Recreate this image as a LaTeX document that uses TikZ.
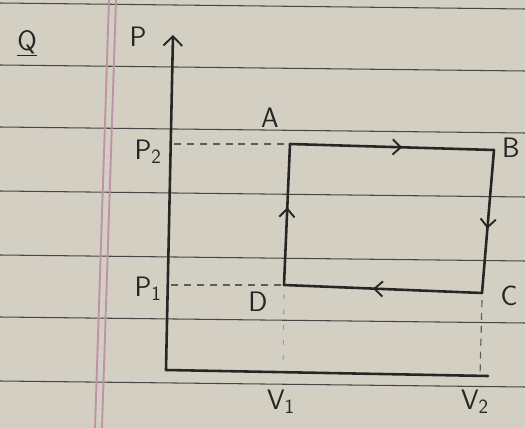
\documentclass[tikz,border=0pt]{standalone}
\usetikzlibrary{arrows.meta,decorations.markings}
\definecolor{paper}{HTML}{D3CFC3}
\definecolor{inkgray}{HTML}{262626}
\definecolor{rulegray}{HTML}{474747}
\definecolor{marginpink}{HTML}{BF93A6}
\tikzset{
  ink/.style={draw=inkgray, line width=2.2pt, line cap=round, line join=round},
  guide/.style={draw=inkgray!75, line width=1pt, dash pattern=on 6pt off 5pt},
  faintguide/.style={draw=inkgray!45, line width=1pt, dash pattern=on 4pt off 9pt},
  ruling/.style={draw=rulegray, line width=0.9pt},
  marginline/.style={draw=marginpink, line width=1.6pt},
  lbl/.style={text=inkgray, font=\sffamily\fontsize{24}{26}\selectfont, inner sep=1pt},
  flow/.style={postaction={decorate}, decoration={markings,
    mark=at position 0.55 with {\arrow{Straight Barb[length=7pt,width=13pt,line width=1.6pt]}}}}
}
\begin{document}
\begin{tikzpicture}[x=0.03cm, y=-0.03cm]
  % paper
  \fill[paper] (0,0) rectangle (525,428);
  \useasboundingbox (0,0) rectangle (525,428);
  \foreach \y in {3,65,127,191,255,317,381}
    \draw[ruling] (0,\y) -- (525,\y+6);
  \draw[marginline] (109,0) -- (95,428);
  \draw[marginline] (116,0) -- (102,428);

  % axes
  \coordinate (O) at (166,370);
  \coordinate (Ptop) at (173,35);
  \coordinate (Vend) at (488,376);
  \draw[ink, -{Straight Barb[length=8pt,width=16pt,line width=1.6pt]}] (O) -- (Ptop);
  \draw[ink] (O) -- (Vend);

  % cycle corners
  \coordinate (A) at (290,144);
  \coordinate (B) at (494,150);
  \coordinate (C) at (482,293);
  \coordinate (D) at (284,285);

  % guide lines
  \coordinate (P2a) at (174,144);
  \coordinate (P1a) at (171,285);
  \coordinate (V1a) at (283,370);
  \coordinate (V2a) at (480,375);
  \draw[guide] (P2a) -- (A);
  \draw[guide] (P1a) -- (D);
  \draw[faintguide] ([yshift=-8pt]D) -- (V1a);
  \draw[guide] ([yshift=-6pt]C) -- (V2a);

  % cycle
  \draw[ink, flow] (A) -- (B);
  \draw[ink, flow] (B) -- (C);
  \draw[ink, flow] (C) -- (D);
  \draw[ink, flow] (D) -- (A);

  % labels
  \node[lbl] (q) at (27,43) {\underline{Q}};
  \node[lbl] (p) at (138,37) {P};
  \node[lbl] (la) at (270,118) {A};
  \node[lbl] (lb) at (511,148) {B};
  \node[lbl] (lc) at (509,296) {C};
  \node[lbl] (ld) at (258,302) {D};
  \node[lbl] (p2) at (148,152) {P$_{\mathsf{2}}$};
  \node[lbl] (p1) at (148,289) {P$_{\mathsf{1}}$};
  \node[lbl] (v1) at (281,402) {V$_{\mathsf{1}}$};
  \node[lbl] (v2) at (475,402) {V$_{\mathsf{2}}$};
\end{tikzpicture}
\end{document}
